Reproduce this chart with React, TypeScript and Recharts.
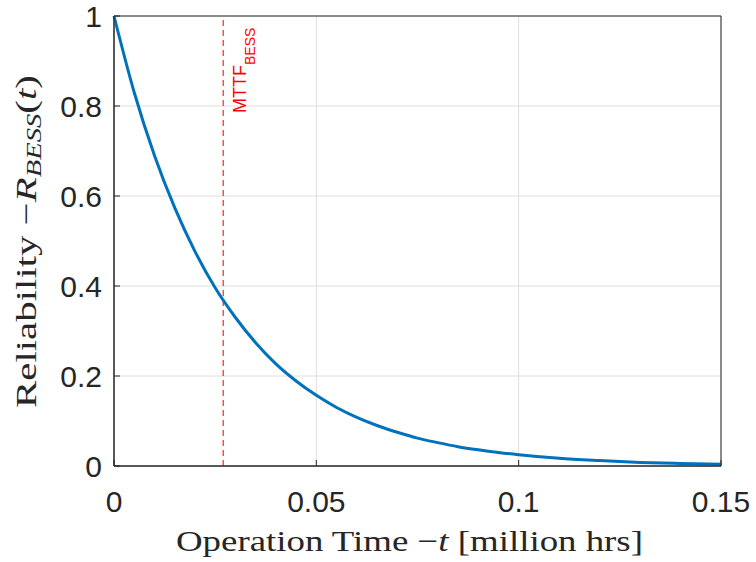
import { LineChart, Line, XAxis, YAxis, CartesianGrid, ReferenceLine, ReferenceArea } from "recharts";

// operation time t [million hrs] and reliability R_BESS(t)
const times = [0, 0.005, 0.01, 0.015, 0.02, 0.025, 0.03, 0.035, 0.04, 0.045, 0.05, 0.055, 0.06, 0.065, 0.07, 0.075, 0.08, 0.085, 0.09, 0.095, 0.1, 0.11, 0.12, 0.13, 0.14, 0.15];
const reliability = [1, 0.83, 0.69, 0.574, 0.477, 0.396, 0.33, 0.274, 0.227, 0.189, 0.157, 0.13, 0.108, 0.09, 0.075, 0.062, 0.052, 0.043, 0.036, 0.03, 0.025, 0.017, 0.012, 0.008, 0.0056, 0.004];
const mttf = 0.027;

const xTicks = [0, 0.05, 0.1, 0.15];
const yTicks = [0, 0.2, 0.4, 0.6, 0.8, 1];

const data = times.map((t, i) => ({ t, r: reliability[i] }));

const sans = "'Liberation Sans', Arial, sans-serif";
const serif = "'Liberation Serif', 'DejaVu Serif', serif";
const ink = "#262626";

const XTick = ({ x, y, payload }: any) => (
  <g>
    <line x1={x} y1={y} x2={x} y2={y - 6} stroke={ink} />
    <text x={x} y={y + 46} textAnchor="middle" fill={ink} fontFamily={sans} fontSize={30}>
      {String(payload.value)}
    </text>
  </g>
);

const YTick = ({ x, y, payload }: any) => (
  <g>
    <line x1={x} y1={y} x2={x + 6} y2={y} stroke={ink} />
    <text x={x - 12} y={y + 11} textAnchor="end" fill={ink} fontFamily={sans} fontSize={30}>
      {String(payload.value)}
    </text>
  </g>
);

const XTitle = () => (
  <text x={176} y={551} fill={ink} fontFamily={serif} fontSize={30} textLength={467} lengthAdjust="spacingAndGlyphs">
    Operation Time −<tspan fontStyle="italic">t</tspan> [million hrs]
  </text>
);

const YTitle = () => (
  <text transform="translate(36, 408) rotate(-90)" fill={ink} fontFamily={serif} fontSize={30} textLength={333} lengthAdjust="spacingAndGlyphs">
    Reliability −<tspan fontStyle="italic">R</tspan>
    <tspan fontStyle="italic" fontSize={21} dy={5}>BESS</tspan>
    <tspan dy={-5}>(</tspan>
    <tspan fontStyle="italic">t</tspan>)
  </text>
);

const MttfLabel = () => (
  <text transform="translate(246, 113) rotate(-90)" fill="#ff0000" fontFamily={sans} fontSize={18}>
    MTTF<tspan fontSize={14} dy={9}>BESS</tspan>
  </text>
);

export default function App() {
  return (
    <div style={{ position: "absolute", left: 0, top: 0, width: 756, height: 562, background: "#fff" }}>
      <LineChart width={756} height={562} data={data} margin={{ top: 16, right: 35, bottom: 0, left: 54 }}>
        <CartesianGrid stroke="#dedede" strokeWidth={1} />
        <XAxis
          dataKey="t"
          type="number"
          domain={[0, 0.15]}
          ticks={xTicks}
          tick={<XTick />}
          tickLine={false}
          tickSize={0}
          tickMargin={0}
          axisLine={{ stroke: ink }}
          height={96}
          label={{ content: () => <XTitle /> }}
        />
        <YAxis
          type="number"
          domain={[0, 1]}
          ticks={yTicks}
          tick={<YTick />}
          tickLine={false}
          tickSize={0}
          tickMargin={0}
          axisLine={{ stroke: ink }}
          width={60}
          label={{ content: () => <YTitle /> }}
        />
        <ReferenceArea x1={0} x2={0.15} y1={0} y2={1} fill="none" fillOpacity={0} stroke={ink} strokeWidth={1} />
        <ReferenceLine
          x={mttf}
          stroke="#ff0000"
          strokeOpacity={0.7}
          strokeWidth={1.5}
          strokeDasharray="6 4"
          label={{ content: () => <MttfLabel /> }}
        />
        <Line type="monotone" dataKey="r" stroke="#0072BD" strokeWidth={3} dot={false} isAnimationActive={false} />
      </LineChart>
    </div>
  );
}
